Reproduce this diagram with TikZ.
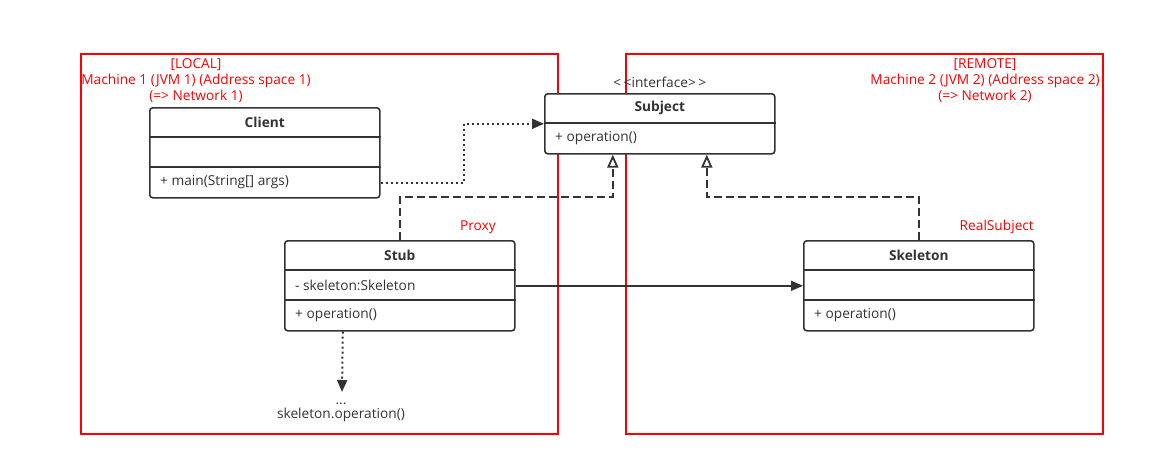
\documentclass[tikz,border=0pt]{standalone}
\usepackage{fontspec}
\setmainfont{Open Sans}
\usetikzlibrary{arrows.meta}
\definecolor{ink}{HTML}{333333}
\definecolor{zone}{HTML}{FF0000}

% UML class box: name, left, top, height, title, attribute row, operation row
\newcommand\umlclass[7]{%
  \node[classbox, anchor=north west, minimum height=#4pt] (#1) at (#2,#3) {};
  \node[titletext] at ([yshift=-15pt]#1.north) {#5};
  \draw[divider] ([yshift=-30pt]#1.north west) -- ([yshift=-30pt]#1.north east);
  \ifnum#4>60
    \draw[divider] ([yshift=-60pt]#1.north west) -- ([yshift=-60pt]#1.north east);
    \node[rowtext] at ([xshift=11pt,yshift=-45pt]#1.north west) {#6};
    \node[rowtext] at ([xshift=11pt,yshift=-75pt]#1.north west) {#7};
  \else
    \node[rowtext] at ([xshift=11pt,yshift=-45pt]#1.north west) {#7};
  \fi
}

\begin{document}
\begin{tikzpicture}[x=1pt,y=-1pt,
  font=\fontsize{13.7}{16}\selectfont,
  classbox/.style={draw=ink, line width=1.6pt, rounded corners=3pt, fill=white,
    minimum width=230pt, inner sep=0pt},
  divider/.style={draw=ink, line width=1.6pt},
  titletext/.style={text=ink, font=\fontsize{13.7}{16}\selectfont\bfseries, inner sep=0pt},
  rowtext/.style={text=ink, anchor=west, inner sep=0pt},
  zonebox/.style={draw=zone, line width=2pt},
  zonetext/.style={text=zone, align=center, inner sep=0pt},
  conn/.style={draw=ink, line width=1.6pt},
  dashconn/.style={conn, dash pattern=on 8pt off 4pt},
  dotconn/.style={conn, line width=2pt, dash pattern=on 2pt off 3pt},
  filltip/.style={-{Triangle[length=12pt,width=10pt]}},
  opentip/.style={-{Triangle[open,length=13pt,width=11pt,line width=1.8pt]}},
]
\useasboundingbox (0,0) rectangle (1165,466);

% machine regions
\draw[zonebox] (81,54) rectangle (558,434);
\draw[zonebox] (626,54) rectangle (1103,434);
\node[zonetext] (localtag) at (196,81) {[LOCAL]\\Machine 1 (JVM 1) (Address space 1)\\(=> Network 1)};
\node[zonetext] (remotetag) at (985,81) {[REMOTE]\\Machine 2 (JVM 2) (Address space 2)\\(=> Network 2)};

% classes
\umlclass{client}{149}{107}{90}{Client}{}{+ main(String[] args)}
\umlclass{subject}{544}{93}{60}{Subject}{}{+ operation()}
\umlclass{stub}{284}{240}{90}{Stub}{- skeleton:Skeleton}{+ operation()}
\umlclass{skeleton}{803}{240}{90}{Skeleton}{}{+ operation()}

\node[text=ink, anchor=south, inner sep=0pt] (stereo) at ([yshift=5pt]subject.north) {<\kern2.5pt<interface>\kern2.5pt>};
\node[text=zone, anchor=east, inner sep=0pt] (proxytag) at (496,227) {Proxy};
\node[text=zone, anchor=east, inner sep=0pt] (realtag) at (1034,227) {RealSubject};

% call note under the stub
\coordinate (callend) at (342,392);
\node[text=ink, align=center, inner sep=0pt, font=\fontsize{13.7}{14}\selectfont] (call) at (341,412) {...\\skeleton.operation()};

% connectors
\draw[dotconn, filltip] ([yshift=-30pt]client.east) -- ++(83,0) |- (subject.west);
\draw[dashconn, opentip] (stub.north) -- ++(0,-43) -| ([xshift=-47pt]subject.south);
\draw[dashconn, opentip] (skeleton.north) -- ++(0,-43) -| ([xshift=47pt]subject.south);
\draw[conn, filltip] (stub.east) -- (skeleton.west);
\draw[dotconn, filltip] ([xshift=-57pt]stub.south) -- (callend);
\end{tikzpicture}
\end{document}
